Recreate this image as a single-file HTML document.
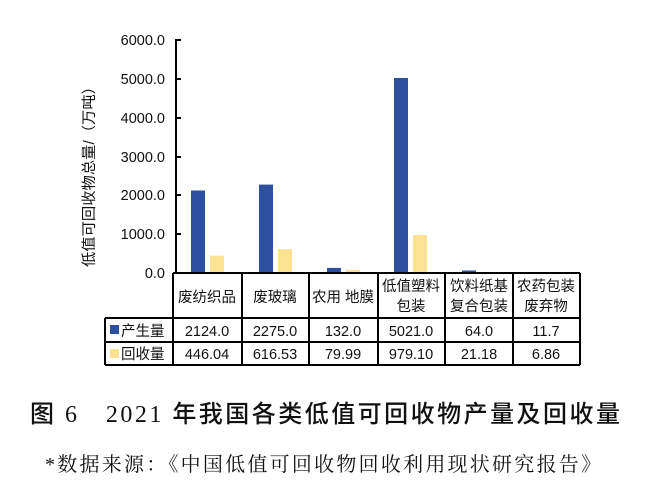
<!DOCTYPE html>
<html><head><meta charset="utf-8"><style>
body{margin:0;background:#fff;width:656px;height:487px;overflow:hidden}
svg{display:block}
.t{font-family:"Liberation Sans","Noto Sans CJK SC",sans-serif;font-size:14.5px;fill:#111}
</style></head><body>
<svg width="656" height="487" viewBox="0 0 656 487" xmlns="http://www.w3.org/2000/svg">
<g class="t" text-anchor="end" font-size="14">
<text x="165" y="45">6000.0</text>
<text x="165" y="84">5000.0</text>
<text x="165" y="123">4000.0</text>
<text x="165" y="162">3000.0</text>
<text x="165" y="200">2000.0</text>
<text x="165" y="239">1000.0</text>
<text x="165" y="278">0.0</text>
</g>
<text class="t" transform="translate(94,173) rotate(-90)" text-anchor="middle" font-size="15" textLength="188" lengthAdjust="spacingAndGlyphs">低值可回收物总量/（万吨）</text>
<g stroke="#000" stroke-width="2">
<line x1="176" y1="39" x2="176" y2="274"/>
<line x1="176" y1="40" x2="181" y2="40"/>
<line x1="176" y1="79" x2="181" y2="79"/>
<line x1="176" y1="118" x2="181" y2="118"/>
<line x1="176" y1="157" x2="181" y2="157"/>
<line x1="176" y1="195" x2="181" y2="195"/>
<line x1="176" y1="234" x2="181" y2="234"/>
</g>
<g fill="#2e4f9e">
<rect x="191" y="190.5" width="14" height="82.5"/>
<rect x="259" y="184.6" width="14" height="88.4"/>
<rect x="327" y="267.9" width="14" height="5.1"/>
<rect x="394" y="78" width="14" height="195"/>
<rect x="462" y="270.5" width="14" height="2.5"/>
<rect x="530" y="272.5" width="14" height="0.5"/>
</g>
<g fill="#fde293">
<rect x="210" y="255.7" width="14" height="17.3"/>
<rect x="278" y="249.1" width="14" height="23.9"/>
<rect x="346" y="269.9" width="14" height="3.1"/>
<rect x="413" y="235" width="14" height="38"/>
<rect x="481" y="272.2" width="14" height="0.8"/>
</g>
<g stroke="#000" stroke-width="2" fill="none">
<line x1="173" y1="273" x2="580" y2="273"/>
<line x1="105" y1="318" x2="580" y2="318"/>
<line x1="105" y1="342" x2="580" y2="342"/>
<line x1="105" y1="365" x2="580" y2="365"/>
<line x1="105" y1="318" x2="105" y2="365"/>
<line x1="173" y1="273" x2="173" y2="365"/>
<line x1="242" y1="273" x2="242" y2="365"/>
<line x1="309" y1="273" x2="309" y2="365"/>
<line x1="378" y1="273" x2="378" y2="365"/>
<line x1="445" y1="273" x2="445" y2="365"/>
<line x1="513" y1="273" x2="513" y2="365"/>
<line x1="580" y1="273" x2="580" y2="365"/>
</g>
<g class="t" text-anchor="middle">
<text x="207" y="302">废纺织品</text>
<text x="275" y="302">废玻璃</text>
<text x="343" y="302">农用 地膜</text>
<text x="411" y="291">低值塑料</text><text x="411" y="311">包装</text>
<text x="479" y="291">饮料纸基</text><text x="479" y="311">复合包装</text>
<text x="546" y="291">农药包装</text><text x="546" y="311">废弃物</text>
<text x="207" y="336">2124.0</text><text x="275" y="336">2275.0</text><text x="343" y="336">132.0</text><text x="411" y="336">5021.0</text><text x="479" y="336">64.0</text><text x="546" y="336">11.7</text>
<text x="207" y="359">446.04</text><text x="275" y="359">616.53</text><text x="343" y="359">79.99</text><text x="411" y="359">979.10</text><text x="479" y="359">21.18</text><text x="546" y="359">6.86</text>
</g>
<rect x="110" y="325" width="9" height="9" fill="#2e4f9e"/>
<rect x="110" y="349" width="9" height="9" fill="#fde293"/>
<text class="t" x="121" y="336">产生量</text>
<text class="t" x="121" y="359">回收量</text>
<text x="30" y="422" font-family="'Liberation Serif','Noto Sans CJK SC',serif" font-size="24" font-weight="500" fill="#111" textLength="590" lengthAdjust="spacing">图 6　2021 年我国各类低值可回收物产量及回收量</text>
<text x="45" y="471" font-family="'Liberation Serif','Noto Serif CJK SC',serif" font-size="20" fill="#111" textLength="556" lengthAdjust="spacing">*数据来源：《中国低值可回收物回收利用现状研究报告》</text>
</svg>
</body></html>
